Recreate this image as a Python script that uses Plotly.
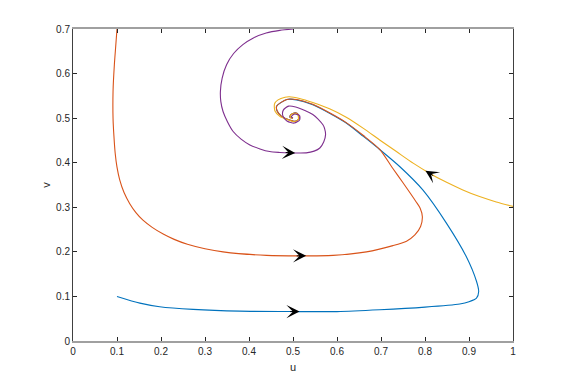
import plotly.graph_objects as go

# ---- data ----
blue_u = [0.1, 0.152, 0.197, 0.273, 0.379, 0.5, 0.6, 0.697, 0.8, 0.879, 0.90, 0.917, 0.922,
          0.917, 0.894, 0.849, 0.795, 0.743, 0.699, 0.66, 0.621, 0.583,
          0.545, 0.508, 0.486, 0.463, 0.464, 0.474, 0.489, 0.505, 0.514, 0.512, 0.505, 0.495,
          0.493, 0.5]
blue_v = [0.1, 0.085, 0.077, 0.071, 0.067, 0.066, 0.066, 0.070, 0.076, 0.083, 0.088, 0.096, 0.111,
          0.134, 0.189, 0.264, 0.339, 0.391, 0.428, 0.459, 0.489, 0.511,
          0.530, 0.541, 0.542, 0.527, 0.516, 0.504, 0.497, 0.493, 0.499, 0.508, 0.512, 0.508,
          0.502, 0.5]

orange_u = [0.1, 0.097, 0.094, 0.091, 0.091, 0.093, 0.096, 0.1, 0.106, 0.116, 0.129, 0.143,
            0.159, 0.18, 0.205, 0.23, 0.26, 0.3, 0.341, 0.44, 0.515, 0.591, 0.667, 0.727,
            0.758, 0.777, 0.79, 0.794, 0.789, 0.78,
            0.75, 0.727, 0.697, 0.66, 0.621, 0.583, 0.545, 0.508, 0.486, 0.463, 0.464, 0.474,
            0.489, 0.505, 0.514, 0.512, 0.505, 0.495, 0.493, 0.5]
orange_v = [0.7, 0.66, 0.62, 0.56, 0.50, 0.46, 0.42, 0.39, 0.362, 0.333, 0.308, 0.288,
            0.271, 0.255, 0.240, 0.228, 0.217, 0.207, 0.200, 0.192, 0.191, 0.192, 0.200, 0.214,
            0.224, 0.238, 0.257, 0.279, 0.298, 0.312,
            0.355, 0.387, 0.430, 0.461, 0.490, 0.512, 0.531, 0.542, 0.542, 0.527, 0.516, 0.504,
            0.497, 0.493, 0.499, 0.508, 0.512, 0.508, 0.502, 0.5]

yellow_u = [1.0, 0.962, 0.924, 0.886, 0.849, 0.811, 0.773, 0.735, 0.697, 0.66, 0.621, 0.583,
            0.545, 0.515, 0.492, 0.482, 0.466, 0.458, 0.459, 0.470, 0.486, 0.503, 0.512, 0.511,
            0.503, 0.495, 0.495, 0.5]
yellow_v = [0.302, 0.312, 0.324, 0.339, 0.356, 0.376, 0.399, 0.425, 0.451, 0.477, 0.502, 0.521,
            0.535, 0.544, 0.548, 0.547, 0.541, 0.532, 0.516, 0.504, 0.497, 0.492, 0.497, 0.507,
            0.511, 0.507, 0.501, 0.5]

purple_u = [0.5, 0.47, 0.439, 0.41, 0.386, 0.365, 0.349, 0.339, 0.335, 0.336, 0.341, 0.351,
            0.364, 0.382, 0.402, 0.425, 0.447, 0.47, 0.493, 0.53, 0.548, 0.561, 0.570, 0.574,
            0.572, 0.568, 0.557, 0.545, 0.527, 0.506, 0.49, 0.478, 0.477, 0.487, 0.503, 0.515,
            0.515, 0.503, 0.496, 0.5]
purple_v = [0.7, 0.697, 0.691, 0.68, 0.665, 0.645, 0.620, 0.59, 0.560, 0.537, 0.515, 0.492,
            0.470, 0.453, 0.440, 0.431, 0.425, 0.423, 0.422, 0.422, 0.426, 0.433, 0.447, 0.463,
            0.476, 0.485, 0.498, 0.508, 0.517, 0.525, 0.527, 0.518, 0.505, 0.493, 0.489, 0.496,
            0.506, 0.509, 0.503, 0.5]

# arrows: tip (u, v) and tail (u, v)
arrow_tip_u = [0.515, 0.53, 0.505, 0.801]
arrow_tip_v = [0.066, 0.191, 0.422, 0.382]
arrow_tail_u = [0.49, 0.505, 0.48, 0.822]
arrow_tail_v = [0.066, 0.191, 0.423, 0.369]

x_ticks = [0, 0.1, 0.2, 0.3, 0.4, 0.5, 0.6, 0.7, 0.8, 0.9, 1]
x_tick_text = ["0", "0.1", "0.2", "0.3", "0.4", "0.5", "0.6", "0.7", "0.8", "0.9", "1"]
y_ticks = [0, 0.1, 0.2, 0.3, 0.4, 0.5, 0.6, 0.7]
y_tick_text = ["0", "0.1", "0.2", "0.3", "0.4", "0.5", "0.6", "0.7"]

colors = ["#0072BD", "#D95319", "#EDB120", "#7E2F8E"]

fig = go.Figure()
for (u, v), c in zip([(blue_u, blue_v), (orange_u, orange_v),
                      (yellow_u, yellow_v), (purple_u, purple_v)], colors):
    fig.add_trace(go.Scatter(x=u, y=v, mode="lines",
                             line=dict(color=c, width=1.1, shape="spline", smoothing=0.7),
                             showlegend=False, hoverinfo="skip"))

for tu, tv, su, sv in zip(arrow_tip_u, arrow_tip_v, arrow_tail_u, arrow_tail_v):
    fig.add_annotation(x=tu, y=tv, ax=su, ay=sv, xref="x", yref="y", axref="x", ayref="y",
                       showarrow=True, arrowhead=3, arrowsize=2.2, arrowwidth=1,
                       arrowcolor="black", text="")

font_family = "Liberation Sans, Arial, sans-serif"
fig.add_annotation(text="u", x=0.5, y=-0.083, xref="paper", yref="paper", showarrow=False,
                   font=dict(family=font_family, size=11, color="#262626"),
                   xanchor="center", yanchor="middle")
fig.add_annotation(text="v", x=-0.062, y=0.5, xref="paper", yref="paper", showarrow=False,
                   textangle=-90, font=dict(family=font_family, size=11, color="#262626"),
                   xanchor="center", yanchor="middle")

fig.update_layout(
    width=568, height=383,
    margin=dict(l=73, r=55, t=29, b=42),
    plot_bgcolor="white", paper_bgcolor="white",
    font=dict(family=font_family, size=10, color="#262626"),
)
fig.update_xaxes(range=[0, 1], tickvals=x_ticks, ticktext=x_tick_text,
                 showgrid=False, zeroline=False, showline=True, linecolor="#a0a0a0",
                 linewidth=2, mirror="allticks", ticks="inside", ticklen=4,
                 tickcolor="#262626", tickfont=dict(size=10, color="#262626"))
fig.update_yaxes(range=[0, 0.7], tickvals=y_ticks, ticktext=y_tick_text,
                 showgrid=False, zeroline=False, showline=True, linecolor="#404040",
                 linewidth=1, mirror="allticks", ticks="inside", ticklen=4,
                 tickcolor="#262626", tickfont=dict(size=10, color="#262626"))

fig.write_html("out.html")
